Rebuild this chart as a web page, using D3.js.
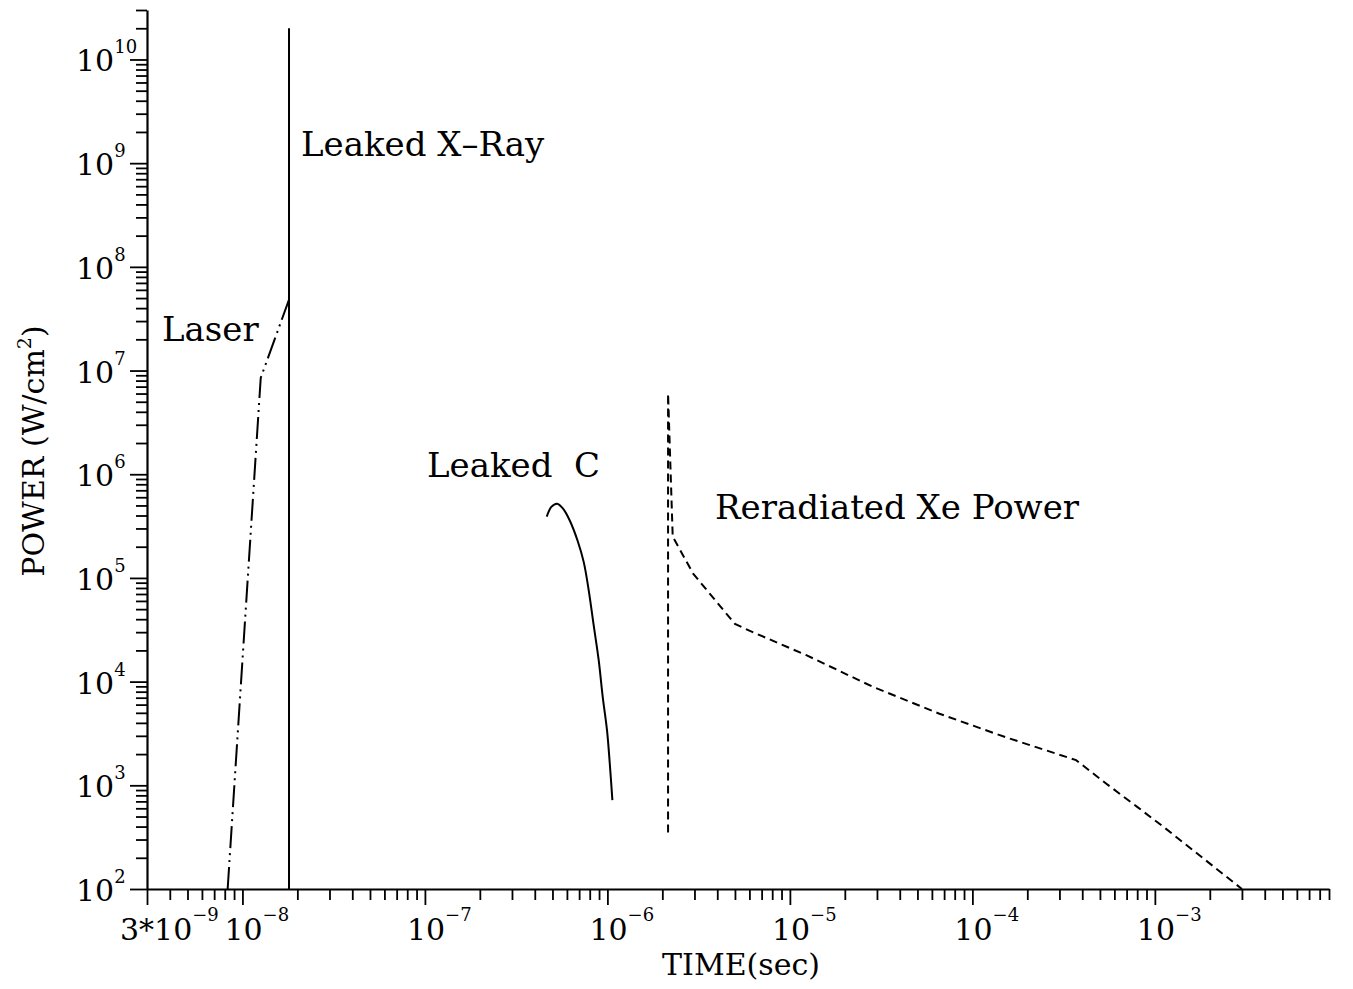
<!DOCTYPE html>
<html>
<head>
<meta charset="utf-8">
<script src="https://cdn.jsdelivr.net/npm/d3@7"></script>
<style>
  body { margin: 0; background: #fff; }
  svg { display: block; }
  text { font-family: "DejaVu Serif", serif; fill: #000; }
</style>
</head>
<body>
<div id="chart"></div>
<script>
// values (time in s, power in W/cm^2)
var laserTime = [8.3e-9, 1.26e-8, 1.82e-8];
var laserPower = [1e2, 8.5e6, 5.1e7];

var xrayTime = [1.8e-8, 1.8e-8];
var xrayPower = [1e2, 2e10];

var carbonTime = [4.65e-7, 4.93e-7, 5.3e-7, 5.71e-7, 6.21e-7, 6.88e-7, 7.42e-7, 7.9e-7, 8.41e-7, 8.96e-7, 9.43e-7, 9.95e-7, 1.03e-6, 1.065e-6];
var carbonPower = [3.9e5, 4.84e5, 5.2e5, 4.67e5, 3.6e5, 2.26e5, 1.42e5, 7.6e4, 3.5e4, 1.61e4, 7.1e3, 3.4e3, 1.64e3, 7.2e2];

var xeTime = [2.15e-6, 2.15e-6, 2.28e-6, 2.95e-6, 5.0e-6, 6.0e-6, 1.23e-5, 2.85e-5, 6.6e-5, 1.53e-4, 3.7e-4, 5.4e-4, 8.0e-4, 1.13e-3, 3.0e-3];
var xePower = [3.5e2, 6.0e6, 2.5e5, 1.1e5, 3.6e4, 3.1e4, 1.8e4, 8.9e3, 4.9e3, 2.9e3, 1.75e3, 1.04e3, 6.2e2, 3.9e2, 1e2];

// tick labels: [mantissa prefix, exponent]
var xTickLabels = [["3*", -9], ["", -8], ["", -7], ["", -6], ["", -5], ["", -4], ["", -3]];
var yTickLabels = [2, 3, 4, 5, 6, 7, 8, 9, 10];

var svgWidth = 1353;
var svgHeight = 989;

var svg = d3.select("#chart")
    .append("svg")
    .attr("width", svgWidth)
    .attr("height", svgHeight);

var xScale = d3.scaleLog()
    .domain([3e-9, 9e-3])
    .range([147, 1329]);

var yScale = d3.scaleLog()
    .domain([1e2, 3e10])
    .range([889, 10]);

// every 1..9 x 10^n inside the domain
function logTicks(lo, hi) {
    var out = [];
    for (var e = Math.floor(Math.log10(lo)); e <= Math.ceil(Math.log10(hi)); e++) {
        for (var m = 1; m <= 9; m++) {
            var v = +(m + "e" + e);
            if (v >= lo * 0.999 && v <= hi * 1.001) out.push(v);
        }
    }
    return out;
}
function isMajor(v) {
    var l = Math.log10(v);
    return Math.abs(l - Math.round(l)) < 1e-6;
}

// axes
var xAxis = d3.axisBottom(xScale)
    .tickValues(logTicks(3e-9, 9e-3))
    .tickSize(11)
    .tickSizeOuter(0)
    .tickFormat("");

var yAxis = d3.axisLeft(yScale)
    .tickValues(logTicks(1e2, 3e10))
    .tickSize(11)
    .tickSizeOuter(0)
    .tickFormat("");

var gx = svg.append("g")
    .attr("transform", "translate(0," + 889 + ")")
    .call(xAxis);
gx.select(".domain").attr("stroke-width", 2.2);
gx.selectAll(".tick line")
    .attr("stroke-width", 1.8)
    .attr("y2", function(d) { return (isMajor(d) || d === 3e-9) ? 16 : 11; });

var gy = svg.append("g")
    .attr("transform", "translate(" + 147 + ",0)")
    .call(yAxis);
gy.select(".domain").attr("stroke-width", 2.2);
gy.selectAll(".tick line")
    .attr("stroke-width", 1.8)
    .attr("x2", function(d) { return isMajor(d) ? -17 : -11; });

// x tick labels
xTickLabels.forEach(function(lab) {
    var v = (lab[0] === "3*" ? 3 : 1) * Math.pow(10, lab[1]);
    var t = svg.append("text")
        .attr("x", lab[0] ? 120 : xScale(v) - 18)
        .attr("y", 940)
        .style("font-size", "30px");
    t.append("tspan").text(lab[0] + "10");
    t.append("tspan")
        .attr("dy", -19)
        .style("font-size", "18px")
        .text("\u2212" + Math.abs(lab[1]));
});

// y tick labels
yTickLabels.forEach(function(e) {
    var t = svg.append("text")
        .attr("x", 76)
        .attr("y", yScale(Math.pow(10, e)) + 12)
        .style("font-size", "30px");
    t.append("tspan").text("10");
    t.append("tspan")
        .attr("dy", -18)
        .style("font-size", "18px")
        .text(e);
});

// axis titles
svg.append("text")
    .attr("x", 741)
    .attr("y", 975)
    .attr("text-anchor", "middle")
    .style("font-size", "30px")
    .text("TIME(sec)");

var yt = svg.append("text")
    .attr("transform", "translate(44,451) rotate(-90)")
    .attr("text-anchor", "middle")
    .style("font-size", "30px");
yt.append("tspan").text("POWER (W/cm");
yt.append("tspan").attr("dy", -13).style("font-size", "19px").text("2");
yt.append("tspan").attr("dy", 13).text(")");

// curves
function series(times, powers) {
    return times.map(function(t, i) { return [t, powers[i]]; });
}
var line = d3.line()
    .x(function(d) { return xScale(d[0]); })
    .y(function(d) { return yScale(d[1]); });

svg.append("path")
    .datum(series(laserTime, laserPower))
    .attr("d", line)
    .attr("fill", "none")
    .attr("stroke", "#000")
    .attr("stroke-width", 2)
    .attr("stroke-dasharray", "22,5,2,5,2,5");

svg.append("path")
    .datum(series(xrayTime, xrayPower))
    .attr("d", line)
    .attr("fill", "none")
    .attr("stroke", "#000")
    .attr("stroke-width", 2);

svg.append("path")
    .datum(series(carbonTime, carbonPower))
    .attr("d", line.curve(d3.curveCatmullRom))
    .attr("fill", "none")
    .attr("stroke", "#000")
    .attr("stroke-width", 2);

line.curve(d3.curveLinear);
svg.append("path")
    .datum(series(xeTime, xePower))
    .attr("d", line)
    .attr("fill", "none")
    .attr("stroke", "#000")
    .attr("stroke-width", 2)
    .attr("stroke-dasharray", "8,5");

// annotations
var notes = [
    { text: "Laser", x: 162, y: 341 },
    { text: "Leaked X\u2013Ray", x: 301, y: 156 },
    { text: "Leaked\u00a0\u00a0C", x: 427, y: 477 },
    { text: "Reradiated Xe Power", x: 715, y: 519 }
];
svg.selectAll(".note")
    .data(notes)
    .enter()
    .append("text")
    .attr("class", "note")
    .attr("x", function(d) { return d.x; })
    .attr("y", function(d) { return d.y; })
    .style("font-size", "34px")
    .text(function(d) { return d.text; });
</script>
</body>
</html>
